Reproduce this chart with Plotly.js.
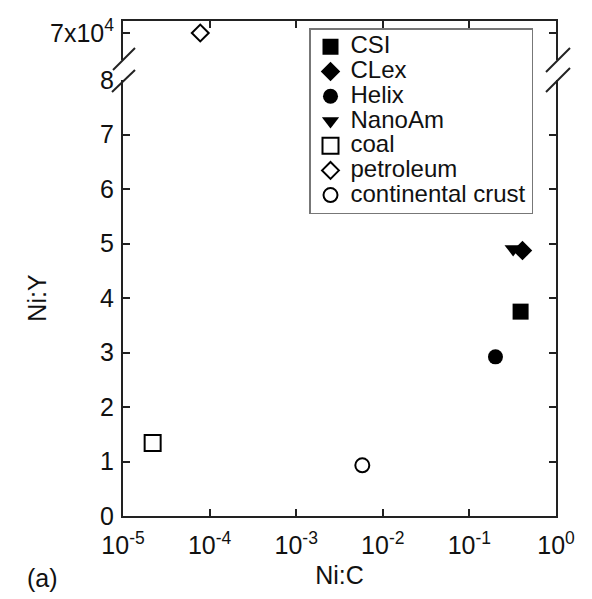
<!DOCTYPE html>
<html>
<head>
<meta charset="utf-8">
<script src="https://cdn.plot.ly/plotly-3.0.1.min.js"></script>
<style>html,body{margin:0;padding:0;background:#fff;}#chart{width:592px;height:599px;}</style>
</head>
<body>
<div id="chart"></div>
<script>
// ---- data ----
const seriesNames = ["CSI", "CLex", "Helix", "NanoAm", "coal", "petroleum", "continental crust"];
const niC = [0.39, 0.41, 0.20, 0.32, 2.2e-5, 7.8e-5, 5.8e-3];
const niY = [3.75, 4.87, 2.92, 4.9, 1.34, 70000, 0.93];
const xTickVals = [1e-5, 1e-4, 1e-3, 1e-2, 1e-1, 1];
const xTickText = ["10<sup>-5</sup>", "10<sup>-4</sup>", "10<sup>-3</sup>", "10<sup>-2</sup>", "10<sup>-1</sup>", "10<sup>0</sup>"];
const yTickVals = [0, 1, 2, 3, 4, 5, 6, 7, 8];
const yTopTickVals = [70000];
const yTopTickText = ["7x10<sup>4</sup>"];

// ---- styles ----
const symbols = ["square", "diamond", "circle", "triangle-down", "square-open", "diamond-open", "circle-open"];
const sizes = [16, 15, 15, 15, 16, 13, 14];
const onTop = [false, false, false, false, false, true, false];
const FONT = "Liberation Sans, Arial, Helvetica, sans-serif";
const AX = "#222";
const LEG_TEXT_PX = 24;

const traces = seriesNames.map((n, i) => ({
  type: "scatter", mode: "markers",
  name: '<span style="font-size:' + LEG_TEXT_PX + 'px">' + n + '</span>',
  x: [niC[i]], y: [niY[i]],
  xaxis: onTop[i] ? "x2" : "x",
  yaxis: onTop[i] ? "y2" : "y",
  marker: {symbol: symbols[i], size: sizes[i], color: "#000",
           line: {width: symbols[i].endsWith("open") ? 2 : 0, color: "#000"}},
  hoverinfo: "skip"
}));

// pixel helpers for decorative break marks
const L = 123, R = 556, T = 21, B = 516;
const W = R - L, H = B - T;
const px = v => (v - L) / W;
const py = v => (B - v) / H;
const lowTop = py(80), topBottom = py(60);
function slash(x0, y0, x1, y1) {
  return {type: "line", xref: "paper", yref: "paper", x0: px(x0), y0: py(y0), x1: px(x1), y1: py(y1),
          line: {color: AX, width: 2}};
}

const layout = {
  width: 592, height: 599,
  margin: {l: L, r: 592 - R, t: T, b: 599 - B},
  paper_bgcolor: "#fff", plot_bgcolor: "#fff",
  font: {family: FONT, size: 25, color: "#111"},
  showlegend: true,
  legend: {x: px(309), y: py(28), xanchor: "left", yanchor: "top",
           bgcolor: "#fff", bordercolor: "#777", borderwidth: 1.5,
           font: {family: FONT, size: 16.7, color: "#111"}, tracegroupgap: 0},
  xaxis: {type: "log", range: [-5, 0], domain: [0, 1], anchor: "y",
          tickvals: xTickVals, ticktext: xTickText, ticks: "inside", ticklen: 7, tickwidth: 2, tickcolor: AX,
          showline: true, linecolor: AX, linewidth: 2, mirror: false, showgrid: false, zeroline: false,
          tickfont: {size: 25}, ticklabelstandoff: 6,
          title: {text: "Ni:C", font: {size: 25}, standoff: 8}},
  yaxis: {range: [0, 8], domain: [0, lowTop], anchor: "x",
          tickvals: yTickVals, ticks: "inside", ticklen: 7, tickwidth: 2, tickcolor: AX,
          showline: true, linecolor: AX, linewidth: 2, mirror: "ticks", showgrid: false, zeroline: false,
          tickfont: {size: 25}, ticklabelstandoff: 2,
          title: {text: "Ni:Y", font: {size: 25}, standoff: 46}},
  xaxis2: {type: "log", range: [-5, 0], anchor: "y2", side: "top", matches: "x",
           tickvals: xTickVals, showticklabels: false, ticks: "inside", ticklen: 7, tickwidth: 2, tickcolor: AX,
           showline: true, linecolor: AX, linewidth: 2, showgrid: false, zeroline: false},
  yaxis2: {range: [68000, 70889], domain: [topBottom, 1], anchor: "x2",
           tickvals: yTopTickVals, ticktext: yTopTickText, ticks: "inside", ticklen: 7, tickwidth: 2, tickcolor: AX,
           showline: true, linecolor: AX, linewidth: 2, mirror: "ticks", showgrid: false, zeroline: false,
           tickfont: {size: 25}, ticklabelstandoff: 2},
  shapes: [
    slash(113, 70, 135, 48), slash(112, 92, 135, 70),
    slash(546, 72, 570, 48), slash(546, 92, 570, 68)
  ],
  annotations: [
    {text: "(a)", xref: "paper", yref: "paper", x: px(42), y: py(578), xanchor: "center", yanchor: "middle",
     showarrow: false, font: {family: FONT, size: 25, color: "#111"}}
  ]
};

Plotly.newPlot("chart", traces, layout, {displayModeBar: false, staticPlot: true});
</script>
</body>
</html>
